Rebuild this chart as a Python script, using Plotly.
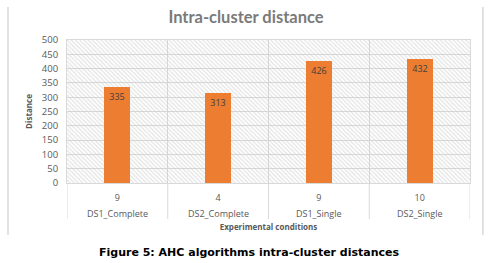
import plotly.graph_objects as go

categories = ["DS1_Complete", "DS2_Complete", "DS1_Single", "DS2_Single"]
cluster_counts = ["9", "4", "9", "10"]
distances = [335, 313, 426, 432]
y_ticks = [0, 50, 100, 150, 200, 250, 300, 350, 400, 450, 500]

GRID = "#d9d9d9"
TXT = "#595959"
ORANGE = "#ED7D31"

fig = go.Figure()

# hatched plot-area background (drawn on the base subplot, beneath the bars)
fig.add_trace(go.Bar(
    x=[0.5], y=[1], width=[1],
    marker=dict(color="rgba(0,0,0,0)", line=dict(width=0),
                pattern=dict(shape="\\", fgcolor="#c8c8c8", bgcolor="rgba(0,0,0,0)",
                             size=3, solidity=0.4)),
    hoverinfo="skip", showlegend=False, xaxis="x", yaxis="y",
))

fig.add_trace(go.Bar(
    x=categories, y=distances,
    width=0.26,
    marker=dict(color=ORANGE, line=dict(width=0)),
    text=[str(v) for v in distances],
    textposition="inside", insidetextanchor="end", textangle=0,
    textfont=dict(family="Open Sans", size=9, color="#404040"),
    constraintext="none",
    showlegend=False, xaxis="x2", yaxis="y2",
))

# second label level (category names) under the cluster counts, with dividers
annotations = [
    dict(text=c, xref="x2", yref="paper", x=c, y=-0.21,
         xanchor="center", yanchor="middle", showarrow=False,
         font=dict(family="Open Sans", size=9, color=TXT))
    for c in categories
]
annotations.append(
    dict(text="<b>Figure 5: AHC algorithms intra-cluster distances</b>",
         xref="paper", yref="paper", x=0.454, y=-0.4895,
         xanchor="center", yanchor="middle", showarrow=False,
         font=dict(family="DejaVu Sans", size=11, color="black")))

shapes = [
    dict(type="line", xref="x2", yref="paper", x0=i - 0.5, x1=i - 0.5,
         y0=0, y1=-0.252, line=dict(color=GRID, width=1))
    for i in range(len(categories) + 1)
]
shapes += [
    dict(type="line", xref="paper", yref="paper", x0=-0.1464, x1=-0.1464,
         y0=1.231, y1=-0.364, line=dict(color=GRID, width=1.5)),
    dict(type="line", xref="paper", yref="paper", x0=1.032, x1=1.032,
         y0=1.231, y1=-0.364, line=dict(color=GRID, width=1.5)),
]

fig.update_layout(
    width=499, height=263,
    margin=dict(l=67, r=29, t=40, b=80, autoexpand=False),
    paper_bgcolor="white", plot_bgcolor="white",
    bargap=0, barmode="overlay",
    xaxis=dict(range=[0, 1], visible=False, fixedrange=True, automargin=False),
    yaxis=dict(range=[0, 1], visible=False, fixedrange=True, automargin=False),
    xaxis2=dict(
        overlaying="x", type="category", automargin=False,
        range=[-0.5, len(categories) - 0.5],
        tickmode="array", tickvals=categories, ticktext=cluster_counts,
        tickson="boundaries",
        showgrid=True, gridcolor=GRID, gridwidth=1,
        showline=True, linecolor=GRID, mirror=True,
        tickfont=dict(family="Open Sans", size=9, color=TXT),
        ticks="", ticklabelstandoff=6,
        title=dict(text="<b>Experimental conditions</b>",
                   font=dict(family="Open Sans", size=8, color=TXT), standoff=21),
    ),
    yaxis2=dict(
        overlaying="y", range=[0, 500], tickvals=y_ticks, automargin=False,
        showgrid=True, gridcolor=GRID, gridwidth=1,
        showline=True, linecolor=GRID, mirror=True,
        zeroline=False, ticks="", ticklabelstandoff=6,
        tickfont=dict(family="Open Sans", size=9.5, color=TXT),
        title=dict(text="<b>Distance</b>",
                   font=dict(family="Open Sans", size=8, color=TXT), standoff=8),
    ),
    title=dict(text="<b>Intra-cluster distance</b>", x=0.493, xanchor="center",
               y=1 - 17 / 263, yanchor="middle", yref="container", automargin=False,
               font=dict(family="Lato", size=16.5, color="#7a7a7a")),
    shapes=shapes,
    annotations=annotations,
)

fig.write_html("out.html", config={"displayModeBar": False},
               post_script="document.body.style.margin='0';document.body.style.padding='0';")
